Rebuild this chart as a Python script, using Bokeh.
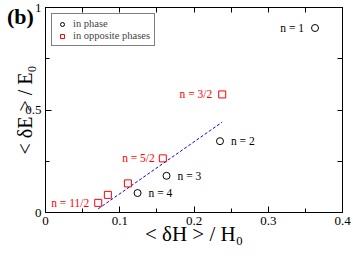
from bokeh.plotting import figure
from bokeh.models import LinearAxis, FixedTicker, Range1d, ColumnDataSource, Legend, LegendItem, Div
from bokeh.layouts import column
from bokeh.core.properties import value
from bokeh.embed import file_html
from bokeh.resources import INLINE

# ---- data ----
phase_x = [0.363, 0.235, 0.163, 0.124]
phase_y = [0.900, 0.348, 0.179, 0.095]
phase_labels = ["n = 1", "n = 2", "n = 3", "n = 4"]

opp_x = [0.238, 0.158, 0.111, 0.084, 0.071]
opp_y = [0.576, 0.264, 0.142, 0.086, 0.047]
opp_labels = ["n = 3/2", "n = 5/2", "", "", "n = 11/2"]

fit_x = [0.071, 0.238]
fit_y = [0.018, 0.441]

x_ticks = [0, 0.1, 0.2, 0.3, 0.4]
x_tick_labels = ["0", "0.1", "0.2", "0.3", "0.4"]
y_ticks = [0, 0.5, 1]
y_tick_labels = ["0", "0.5", "1"]
x_minor = [0.05, 0.15, 0.25, 0.35]
y_minor = [0.25, 0.75]

x_title = "< δH > / H₀"
y_title = "< δE > / E₀"
panel_tag = "(b)"

# ---- styles / placement ----
SERIF = "Liberation Serif"
FONT = value(SERIF)
phase_offsets = [-11, 11, 11, 11]
phase_align = ["right", "left", "left", "left"]
opp_offsets = [-10, -8, 0, 0, -9]

p = figure(width=353, height=258, x_range=Range1d(0, 0.4), y_range=Range1d(0, 1),
           output_backend="svg", toolbar_location=None,
           min_border_left=45, min_border_right=11, min_border_top=7, min_border_bottom=46)
p.xgrid.visible = False
p.ygrid.visible = False
p.outline_line_color = "black"
p.outline_line_width = 1
p.background_fill_color = "white"
p.border_fill_color = "white"

def style_axis(ax, ticks, minor, labels):
    ax.ticker = FixedTicker(ticks=ticks, minor_ticks=minor)
    ax.major_tick_in = 6
    ax.major_tick_out = 0
    ax.minor_tick_in = 4
    ax.minor_tick_out = 0
    ax.axis_line_color = "black"
    ax.major_tick_line_color = "black"
    ax.minor_tick_line_color = "black"
    ax.major_label_text_font = SERIF
    ax.major_label_text_font_size = "13px"
    ax.major_label_text_color = "black"
    ax.major_label_standoff = 4
    ax.axis_label_text_font = SERIF
    ax.axis_label_text_font_style = "normal"
    ax.axis_label_text_color = "black"
    ax.major_label_overrides = {t: l for t, l in zip(ticks, labels)}

def mirror_axis(ax, ticks, minor):
    # tick marks only (all ticks drawn as unlabeled minor ticks)
    ax.ticker = FixedTicker(ticks=[], minor_ticks=sorted(ticks + minor))
    ax.minor_tick_in = 5
    ax.minor_tick_out = 0
    ax.major_tick_in = 0
    ax.major_tick_out = 0
    ax.axis_line_color = "black"
    ax.minor_tick_line_color = "black"

style_axis(p.xaxis[0], x_ticks, x_minor, x_tick_labels)
style_axis(p.yaxis[0], y_ticks, y_minor, y_tick_labels)
p.xaxis[0].axis_label = x_title
p.xaxis[0].axis_label_text_font_size = "21px"
p.xaxis[0].axis_label_standoff = -6
p.yaxis[0].axis_label = y_title
p.yaxis[0].axis_label_text_font_size = "20px"
p.yaxis[0].axis_label_standoff = -14
top = LinearAxis()
right = LinearAxis()
mirror_axis(top, x_ticks, x_minor)
mirror_axis(right, y_ticks, y_minor)
p.add_layout(top, "above")
p.add_layout(right, "right")

# fit line
p.line(fit_x, fit_y, line_color="#0000ff", line_dash="3 2", line_width=1)

# points
r_phase = p.scatter(phase_x, phase_y, marker="circle", size=7, fill_color=None,
                    line_color="black", line_width=1)
r_opp = p.scatter(opp_x, opp_y, marker="square", size=7, fill_color=None,
                  line_color="#ff0000", line_width=1)

# point labels
ps = ColumnDataSource(dict(x=phase_x, y=phase_y, t=phase_labels, o=phase_offsets, a=phase_align))
p.text("x", "y", text="t", x_offset="o", text_align="a", source=ps, text_baseline="middle",
       text_font=FONT, text_font_size="11.5px", text_color="black")
os_ = ColumnDataSource(dict(x=opp_x, y=opp_y, t=opp_labels, o=opp_offsets))
p.text("x", "y", text="t", x_offset="o", text_align="right", source=os_, text_baseline="middle",
       text_font=FONT, text_font_size="11.5px", text_color="#ff0000")

# legend
legend = Legend(items=[LegendItem(label="in phase", renderers=[r_phase]),
                       LegendItem(label="in opposite phases", renderers=[r_opp])],
                location="top_left", border_line_color="black", border_line_width=1,
                label_text_font=SERIF, label_text_font_size="10.5px",
                glyph_width=12, glyph_height=10, label_height=10, spacing=1,
                padding=4, margin=6, label_standoff=5, background_fill_alpha=1)
p.add_layout(legend, "center")

# panel tag, overlaid on the top-left corner of the canvas
tag = Div(text=panel_tag, styles={"position": "absolute", "left": "2px", "top": "-1px",
                                  "font-family": "'Liberation Serif', serif", "font-size": "22px",
                                  "font-weight": "bold", "color": "black", "z-index": "10",
                                  "line-height": "26px"})

layout = column(p, tag)
open("out.html", "w").write(file_html(layout, INLINE))
